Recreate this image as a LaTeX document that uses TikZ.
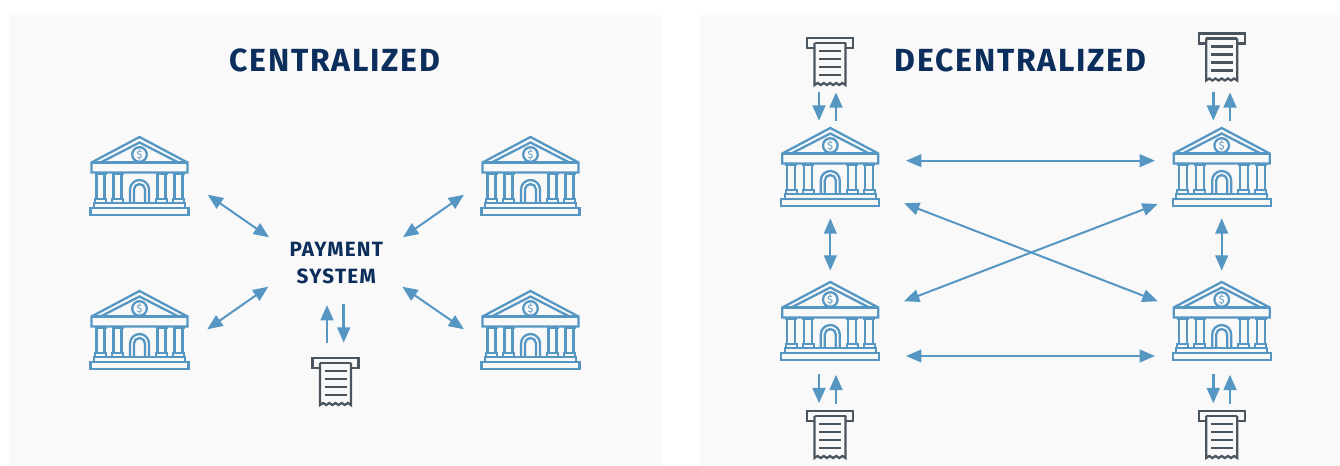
\documentclass[tikz,border=0pt]{standalone}
\usepackage{fontspec}
\setmainfont{Fira Sans}
\usetikzlibrary{arrows.meta}
\definecolor{panel}{HTML}{F9F9F9}
\definecolor{bluel}{HTML}{5596C3}
\definecolor{navy}{HTML}{0B2E5C}
\definecolor{slate}{HTML}{4A5560}
\tikzset{x=0.75pt,y=-0.75pt,
 dblarrow/.style={draw=bluel,line width=1.5pt,{Triangle[length=11.5pt,width=9.5pt]}-{Triangle[length=11.5pt,width=9.5pt]}},
 onearrow/.style={draw=bluel,line width=2.1pt,-{Triangle[length=11.5pt,width=9.5pt]}},
 heading/.style={text=navy,font=\bfseries\fontsize{24}{28}\selectfont\addfontfeatures{LetterSpace=5.5}},
 label/.style={text=navy,font=\bfseries\fontsize{15.5}{20}\selectfont\addfontfeatures{LetterSpace=6},align=center},
 pics/bank/.style={code={
  \begin{scope}[draw=bluel,line width=1.7pt,line join=miter]
  \draw (0,0)--(-48,25.5)--(-48,35.5)--(48,35.5)--(48,25.5)--cycle;
  \draw (-48,25.5)--(48,25.5);
  \draw (-38,25)--(0,5.5)--(38,25);
  \draw (0,17.5) circle[radius=7.3];
  \node[text=bluel,font=\fontsize{8}{8}\selectfont,inner sep=0pt] at (0,17.5) {\$};
  \foreach \c in {-39,-22,22,39}{
   \draw (\c-6,37)--(\c+6,37);
   \draw (\c-4,37)--(\c-4,62)--(\c+4,62)--(\c+4,37);
   \draw (\c-5.5,62)rectangle(\c+5.5,66);
  }
  \draw (-9.5,66)--(-9.5,52.5) arc[start angle=180,end angle=360,radius=9.5]--(9.5,66);
  \draw (-5.5,66)--(-5.5,52.5) arc[start angle=180,end angle=360,radius=5.5]--(5.5,66);
  \draw (-45.5,66)rectangle(45.5,71);
  \draw (-49,71)rectangle(49,78);
  \end{scope}}},
 pics/receipt/.style={code={
  \begin{scope}[draw=slate,line width=1.7pt]
  \draw (-15.5,10)--(-23,10)--(-23,0)--(23,0)--(23,10)--(15.5,10);
  \draw (-15.5,5)--(15.5,5);
  \draw (-15.5,5)--(-15.5,47) -- ++(3.1,-2)--++(3.1,2)--++(3.1,-2)--++(3.1,2)--++(3.1,-2)--++(3.1,2)--++(3.1,-2)--++(3.1,2)--++(3.1,-2)--++(3.1,2)--(15.5,5);
  \foreach \y in {13,21,29,37}{\draw (-11,\y)--(11,\y);}
  \end{scope}}}}
\begin{document}
\begin{tikzpicture}
\useasboundingbox (0,0) rectangle (1340,466);
\fill[panel] (9,15) rectangle (662,466);
\fill[panel] (700,15) rectangle (1340,466);
\node[heading] (h1) at (335,60) {CENTRALIZED};
\node[heading] (h2) at (1020.5,60) {DECENTRALIZED};
\node[label] (ps) at (336.3,263) {PAYMENT\\SYSTEM};
\pic (ba) at (139.5,137) {bank};
\pic (bb) at (530.5,137) {bank};
\pic (bc) at (139.5,291) {bank};
\pic (bd) at (530.5,291) {bank};
\pic (be) at (830.3,128) {bank};
\pic (bf) at (1221.7,128) {bank};
\pic (bg) at (830.3,282) {bank};
\pic (bh) at (1221.7,282) {bank};
\pic (ra) at (335.5,358) {receipt};
\pic (rb) at (830,38) {receipt};
\pic (rc) at (1221.7,33.5) {receipt};
\pic (rd) at (830,411) {receipt};
\pic (re) at (1221.7,411) {receipt};
% centralized
\coordinate (a1) at (207.7,194.7); \coordinate (a2) at (269,237.3);
\coordinate (b1) at (464,194.7); \coordinate (b2) at (403,237.3);
\coordinate (c1) at (207.3,329.3); \coordinate (c2) at (268.3,286.7);
\coordinate (d1) at (464,329.3); \coordinate (d2) at (402.3,286.7);
\draw[dblarrow] (a1)--(a2); \draw[dblarrow] (b1)--(b2);
\draw[dblarrow] (c1)--(c2); \draw[dblarrow] (d1)--(d2);
\coordinate (e1) at (327,342.7); \coordinate (e2) at (327,305);
\coordinate (e3) at (343.7,304); \coordinate (e4) at (343.7,342.7);
\draw[onearrow] (e1)--(e2); \draw[onearrow] (e3)--(e4);
% decentralized
\coordinate (f1) at (906,160.7); \coordinate (f2) at (1155,160.7);
\coordinate (g1) at (906,356); \coordinate (g2) at (1155,356);
\coordinate (h3) at (904,203.3); \coordinate (h4) at (1157.7,301.3);
\coordinate (i1) at (1157.7,204); \coordinate (i2) at (904,301.3);
\coordinate (j1) at (830.3,218.3); \coordinate (j2) at (830.3,270.7);
\coordinate (k1) at (1221.7,218.3); \coordinate (k2) at (1221.7,270.7);
\draw[dblarrow] (f1)--(f2); \draw[dblarrow] (g1)--(g2);
\draw[dblarrow] (h3)--(h4); \draw[dblarrow] (i1)--(i2);
\draw[dblarrow] (j1)--(j2); \draw[dblarrow] (k1)--(k2);
\coordinate (l1) at (819,91.7); \coordinate (l2) at (819,120.7);
\coordinate (l3) at (836,121); \coordinate (l4) at (836,92.3);
\coordinate (m1) at (1213.3,91.7); \coordinate (m2) at (1213.3,120.7);
\coordinate (m3) at (1230,121); \coordinate (m4) at (1230,92.3);
\coordinate (n1) at (819,374); \coordinate (n2) at (819,403.3);
\coordinate (n3) at (836,403.7); \coordinate (n4) at (836,374.7);
\coordinate (o1) at (1213.3,374.3); \coordinate (o2) at (1213.3,403.3);
\coordinate (o3) at (1230,404); \coordinate (o4) at (1230,374.7);
\draw[onearrow] (l1)--(l2); \draw[onearrow] (l3)--(l4);
\draw[onearrow] (m1)--(m2); \draw[onearrow] (m3)--(m4);
\draw[onearrow] (n1)--(n2); \draw[onearrow] (n3)--(n4);
\draw[onearrow] (o1)--(o2); \draw[onearrow] (o3)--(o4);
\end{tikzpicture}
\end{document}
